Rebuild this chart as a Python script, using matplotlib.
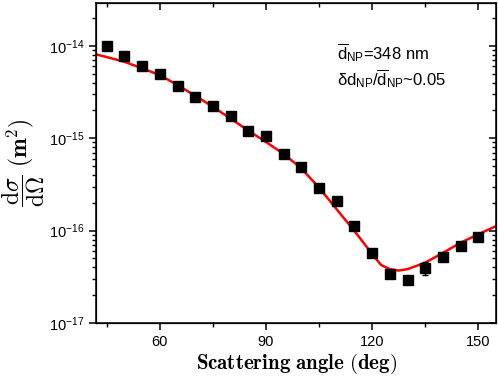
import matplotlib
matplotlib.use("Agg")
import matplotlib.pyplot as plt
from matplotlib.ticker import MultipleLocator, LogLocator, NullFormatter, FixedLocator

plt.rcParams['font.family'] = ['Liberation Sans', 'DejaVu Sans']
plt.rcParams['mathtext.fontset'] = 'custom'
plt.rcParams['mathtext.rm'] = 'Liberation Sans'
plt.rcParams['mathtext.it'] = 'Liberation Sans:italic'
plt.rcParams['mathtext.bf'] = 'Liberation Sans:bold'

# measured data
angles = [45, 50, 55, 60, 65, 70, 75, 80, 85, 90, 95, 100, 105, 110, 115,
          120, 125, 130, 135, 140, 145, 150]
cross_section = [1.00e-14, 7.7e-15, 6.1e-15, 4.95e-15, 3.66e-15, 2.79e-15,
                 2.23e-15, 1.74e-15, 1.20e-15, 1.06e-15, 6.7e-16, 4.85e-16,
                 2.88e-16, 2.09e-16, 1.13e-16, 5.75e-17, 3.43e-17, 2.91e-17,
                 3.93e-17, 5.15e-17, 6.9e-17, 8.5e-17]
rel_err = [0.05, 0.05, 0.05, 0.05, 0.05, 0.05, 0.05, 0.05, 0.05, 0.05, 0.05,
           0.05, 0.05, 0.05, 0.05, 0.05, 0.05, 0.05, 0.16, 0.05, 0.05, 0.05]

# fitted curve
fit_angles = [42, 45, 50, 55, 60, 65, 70, 75, 80, 85, 90, 95, 100, 105, 110,
              115, 120, 122.5, 125, 127.5, 130, 135, 140, 145, 150, 155]
fit_values = [8.07e-15, 7.55e-15, 6.71e-15, 5.70e-15, 4.82e-15, 3.76e-15,
              2.88e-15, 2.19e-15, 1.63e-15, 1.21e-15, 9.1e-16, 6.75e-16,
              4.72e-16, 2.92e-16, 1.70e-16, 9.9e-17, 5.6e-17, 4.26e-17,
              3.83e-17, 3.70e-17, 3.83e-17, 4.5e-17, 5.75e-17, 7.4e-17,
              9.14e-17, 1.12e-16]

xticks = [60, 90, 120, 150]
yticks = [1e-17, 1e-16, 1e-15, 1e-14]
xlim = (42, 155)
ylim = (1e-17, 2.9e-14)

fig = plt.figure(figsize=(4.98, 3.77), dpi=100)
ax = fig.add_axes([0.193, 0.143, 0.803, 0.849])

ax.plot(fit_angles, fit_values, color='#ff0000', lw=1.8, zorder=2)
yerr = [v * e for v, e in zip(cross_section, rel_err)]
ax.errorbar(angles, cross_section, yerr=yerr, fmt='s', color='black',
            ms=7, capsize=2, elinewidth=1, capthick=1, zorder=3)

ax.set_yscale('log')
ax.set_xlim(*xlim)
ax.set_ylim(*ylim)
ax.set_xticks(xticks)
ax.xaxis.set_minor_locator(MultipleLocator(15))
ax.yaxis.set_major_locator(FixedLocator(yticks))
ax.yaxis.set_minor_locator(LogLocator(base=10, subs=range(2, 10), numticks=20))
ax.yaxis.set_minor_formatter(NullFormatter())

for s in ax.spines.values():
    s.set_linewidth(1.1)

ax.tick_params(axis='both', which='major', direction='out', length=5, width=1.1,
               labelsize=10.5, top=False, right=False)
ax.tick_params(axis='both', which='minor', direction='out', length=3, width=1.0,
               top=False, right=False)

# inward ticks on top and right (twin axes, no labels)
axt = ax.twiny()
axt.set_xlim(*xlim)
axt.set_xticks(xticks)
axt.xaxis.set_minor_locator(MultipleLocator(15))
axt.tick_params(which='major', direction='in', length=5, width=1.1,
                labeltop=False, labelbottom=False)
axt.tick_params(which='minor', direction='in', length=3, width=1.0)

axr = ax.twinx()
axr.set_yscale('log')
axr.set_ylim(*ylim)
axr.yaxis.set_major_locator(FixedLocator(yticks))
axr.yaxis.set_minor_locator(LogLocator(base=10, subs=range(2, 10), numticks=20))
axr.tick_params(which='major', direction='in', length=5, width=1.1,
                labelright=False, labelleft=False)
axr.tick_params(which='minor', direction='in', length=3, width=1.0,
                labelright=False, labelleft=False)

ax.set_xlabel(r'$\mathbf{Scattering\ angle\ (deg)}$', fontsize=15,
              math_fontfamily='cm', labelpad=2)
ax.set_ylabel(r'$\dfrac{\mathrm{d}\sigma}{\mathrm{d}\Omega}\ \mathbf{(m^2)}$',
              fontsize=17, math_fontfamily='cm', labelpad=1)

ax.text(0.602, 0.844, r'$\overline{\mathrm{d}}_{\mathrm{NP}}$=348 nm',
        transform=ax.transAxes, fontsize=12, va='center', ha='left')
ax.text(0.602, 0.7625,
        r'$\mathrm{\delta d}_{\mathrm{NP}}/\overline{\mathrm{d}}_{\mathrm{NP}}$~0.05',
        transform=ax.transAxes, fontsize=12, va='center', ha='left')

fig.savefig('out.png', dpi=100)
